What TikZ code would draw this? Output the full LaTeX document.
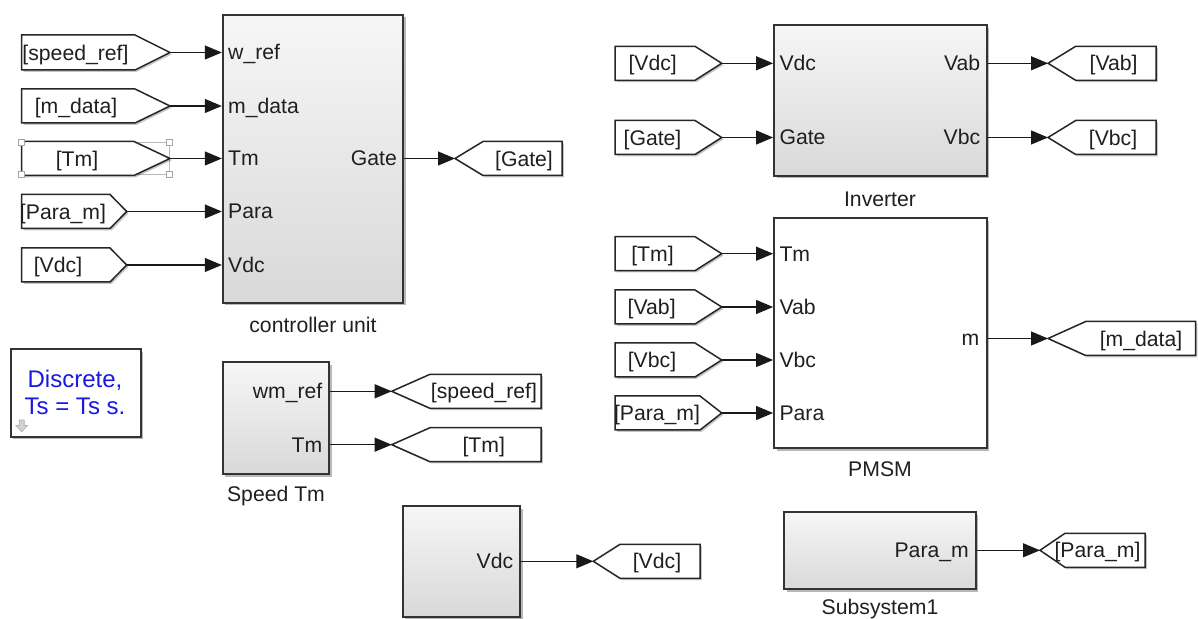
\documentclass[tikz,border=0pt]{standalone}
\usepackage{fontspec}
\setmainfont{Liberation Sans}
\usetikzlibrary{arrows.meta,shadows,calc}
\definecolor{simblue}{RGB}{25,25,225}
\tikzset{
  myshadow/.style={drop shadow={shadow xshift=1.3pt, shadow yshift=-1.3pt, fill=black, opacity=0.28}},
  blk/.style={draw=black!80, line width=0.9pt, top color=gray!7, middle color=white, bottom color=gray!30, myshadow, inner sep=0pt},
  plainblk/.style={draw=black!80, line width=0.9pt, fill=white, myshadow, inner sep=0pt},
  tagshape/.style={draw=black!85, line width=0.75pt, fill=white, drop shadow={shadow xshift=0.9pt, shadow yshift=-0.9pt, fill=black, opacity=0.22}},
  sig/.style={line width=0.55pt, black!90, -{Triangle[length=8.5pt,width=7pt]}},
  txt/.style={font=\fontsize{10.6}{12}\selectfont, inner sep=0pt, text=black!88, yshift=-1.1pt},
  handle/.style={draw=gray!70, fill=white, line width=0.4pt},
}
% block: name, style, x1, y1, x2, y2
\newcommand{\sblock}[6]{%
  \node[#2, minimum width={(#5-#3)*0.5pt}, minimum height={(#6-#4)*0.5pt}] (#1) at ({(#3+#5)/2},{(#4+#6)/2}) {};}
% from tag: name, left, slant, tip, ymid, halfh, textx, text
\newcommand{\ftag}[8]{%
  \draw[tagshape] (#2,{#5-#6}) -- (#3,{#5-#6}) -- (#4,#5) -- (#3,{#5+#6}) -- (#2,{#5+#6}) -- cycle;
  \coordinate (#1) at (#4,#5);
  \node[txt] (#1t) at (#7,#5) {#8};}
% goto tag: name, tip, slant, right, ymid, halfh, textx, text
\newcommand{\gtag}[8]{%
  \draw[tagshape] (#2,#5) -- (#3,{#5-#6}) -- (#4,{#5-#6}) -- (#4,{#5+#6}) -- (#3,{#5+#6}) -- cycle;
  \coordinate (#1) at (#2,#5);
  \node[txt] (#1t) at (#7,#5) {#8};}
\begin{document}
\begin{tikzpicture}[x=0.5pt,y=-0.5pt]
\useasboundingbox (0,0) rectangle (1198,619);

% ---------------- controller unit ----------------
\sblock{cu}{blk}{222.7}{14.7}{403.3}{302.7}
\node[txt] (culbl) at (313,323) {controller unit};

\draw[gray!55, line width=0.4pt] (21.7,142.7) rectangle (169,174.3);
\ftag{f1}{21.7}{135}{170}{52.5}{17.5}{75.5}{[speed\_ref]}
\ftag{f2}{21.7}{135}{170}{106}{17}{76}{[m\_data]}
\ftag{f3}{21.7}{134}{170}{158.5}{17}{77}{[Tm]}
\foreach \hx/\hy in {21.7/142.7,169/142.7,21.7/174.3,169/174.3}
  \draw[handle] ({\hx-3},{\hy-3}) rectangle ({\hx+3},{\hy+3});
\ftag{f4}{21.7}{110}{126.7}{211.5}{17}{63}{[Para\_m]}
\ftag{f5}{21.7}{110}{126.7}{265}{17}{58}{[Vdc]}

\foreach \f/\l in {f1/w\_ref,f2/m\_data,f3/Tm,f4/Para,f5/Vdc}{
  \draw[sig] (\f) -- (\f -| cu.west);
  \node[txt, anchor=mid west] at ($(\f -| cu.west)+(6,0)$) {\l};
}
\gtag{g1}{455}{483}{562}{158.5}{17}{524}{[Gate]}
\draw[sig] (cu.east |- g1) -- (g1);
\node[txt, anchor=mid east] at ($(cu.east |- g1)+(-7,0)$) {Gate};

% ---------------- Inverter ----------------
\sblock{inv}{blk}{774}{25}{986.7}{175.7}
\node[txt] (invlbl) at (880,196.7) {Inverter};
\ftag{f6}{615}{695}{721.7}{63.3}{17}{652.7}{[Vdc]}
\ftag{f7}{615}{695}{721.7}{137.5}{17}{652.5}{[Gate]}
\foreach \f/\l in {f6/Vdc,f7/Gate}{
  \draw[sig] (\f) -- (\f -| inv.west);
  \node[txt, anchor=mid west] at ($(\f -| inv.west)+(6,0)$) {\l};
}
\gtag{g2}{1048}{1075.7}{1156}{63.3}{17}{1113.6}{[Vab]}
\gtag{g3}{1048}{1075.7}{1156}{137.5}{17}{1113}{[Vbc]}
\foreach \g/\l in {g2/Vab,g3/Vbc}{
  \draw[sig] (inv.east |- \g) -- (\g);
  \node[txt, anchor=mid east] at ($(inv.east |- \g)+(-7,0)$) {\l};
}

% ---------------- PMSM ----------------
\sblock{pm}{plainblk}{774}{218.3}{986.7}{448.3}
\node[txt] (pmlbl) at (880,466.7) {PMSM};
\ftag{f8}{615}{695}{721.7}{253.7}{17}{652.5}{[Tm]}
\ftag{f9}{615}{695}{721.7}{307}{17}{651.7}{[Vab]}
\ftag{f10}{615}{695}{721.7}{360}{17}{652}{[Vbc]}
\ftag{f11}{615}{700}{721.7}{413}{17}{657}{[Para\_m]}
\foreach \f/\l in {f8/Tm,f9/Vab,f10/Vbc,f11/Para}{
  \draw[sig] (\f) -- (\f -| pm.west);
  \node[txt, anchor=mid west] at ($(\f -| pm.west)+(6,0)$) {\l};
}
\gtag{g4}{1048}{1085.7}{1195.5}{338.5}{17}{1141}{[m\_data]}
\draw[sig] (pm.east |- g4) -- (g4);
\node[txt, anchor=mid east] at ($(pm.east |- g4)+(-8,0)$) {m};

% ---------------- Discrete ----------------
\sblock{disc}{plainblk}{10.7}{349.3}{140.7}{436.7}
\node[font=\fontsize{12}{13.6}\selectfont, text=simblue, inner sep=0pt, align=center] (disctxt) at (75,392.5) {Discrete,\\Ts = Ts s.};
\draw[gray!60, fill=gray!35, line width=0.3pt] (19.2,420) -- (24.2,420) -- (24.2,425.5) -- (27.5,425.5) -- (21.7,432) -- (15.9,425.5) -- (19.2,425.5) -- cycle;

% ---------------- Speed Tm ----------------
\sblock{st}{blk}{222.7}{362.3}{329.3}{474.3}
\node[txt] (stlbl) at (276,494.3) {Speed Tm};
\gtag{g5}{391.7}{430}{541}{391.3}{17}{484}{[speed\_ref]}
\gtag{g6}{391.7}{430}{541}{444.7}{17}{483.7}{[Tm]}
\foreach \g/\l in {g5/wm\_ref,g6/Tm}{
  \draw[sig] (st.east |- \g) -- (\g);
  \node[txt, anchor=mid east] at ($(st.east |- \g)+(-7.5,0)$) {\l};
}

% ---------------- Vdc source block ----------------
\sblock{vb}{blk}{402.7}{506}{520}{616.7}
\gtag{g7}{593.3}{620}{700}{561.3}{17}{657}{[Vdc]}
\draw[sig] (vb.east |- g7) -- (g7);
\node[txt, anchor=mid east] at ($(vb.east |- g7)+(-7.3,0)$) {Vdc};

% ---------------- Subsystem1 ----------------
\sblock{ss}{blk}{784.3}{512.3}{975.7}{589}
\node[txt] (sslbl) at (880,606.7) {Subsystem1};
\gtag{g8}{1040}{1065}{1145}{550.3}{17}{1097.5}{[Para\_m]}
\draw[sig] (ss.east |- g8) -- (g8);
\node[txt, anchor=mid east] at ($(ss.east |- g8)+(-7.4,0)$) {Para\_m};
\end{tikzpicture}
\end{document}
